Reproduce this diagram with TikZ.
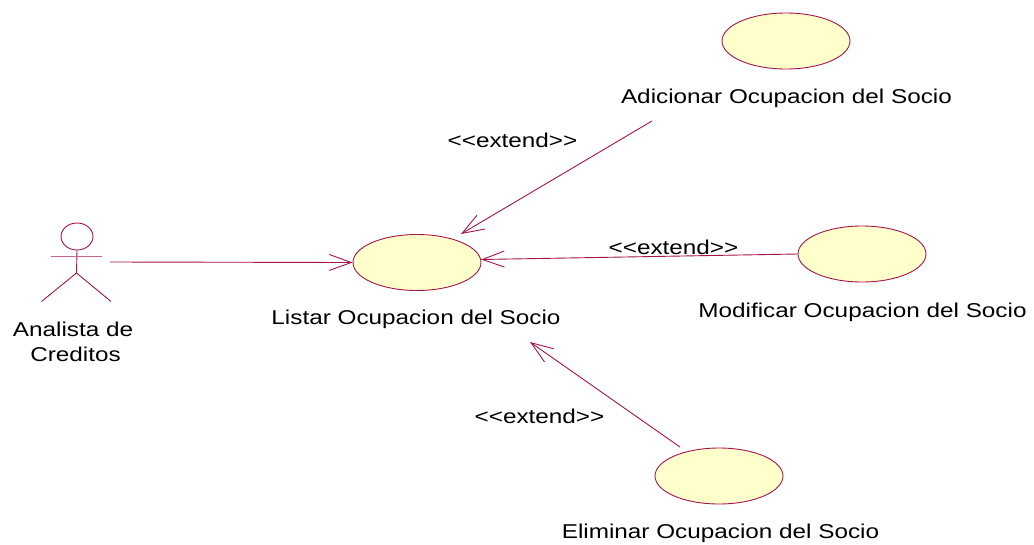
\documentclass[tikz,border=0pt]{standalone}
\usepackage{fontspec}
\setmainfont[FakeStretch=1.215]{Liberation Sans}
\usetikzlibrary{arrows.meta,shapes.geometric}
\definecolor{umlline}{RGB}{165,20,75}
\definecolor{umlfill}{RGB}{255,255,204}
\tikzset{
 x=1pt,y=-1pt,
 usecase/.style={ellipse,draw=umlline,fill=umlfill,line width=0.9pt,minimum width=128pt,minimum height=56pt,inner sep=0pt},
 lbl/.style={font=\fontsize{20}{25}\selectfont,text=black,align=center,inner sep=0pt},
 assoc/.style={draw=umlline,line width=0.9pt},
 arr/.style={assoc,-{Straight Barb[length=22pt,width=16pt,line width=0.9pt]}},
 actorline/.style={draw=umlline,line width=0.9pt}
}
\begin{document}
\begin{tikzpicture}
\useasboundingbox (0,0) rectangle (1034,544);
\fill[white] (0,0) rectangle (1034,544);
\node[usecase] (add) at (786,41) {};
\node[usecase] (lst) at (417,262.5) {};
\node[usecase] (mod) at (862,254) {};
\node[usecase] (del) at (719,476) {};
\node[lbl] (addl) at (786.5,98) {Adicionar Ocupacion del Socio};
\node[lbl] (lstl) at (416,319) {Listar Ocupacion del Socio};
\node[lbl] (modl) at (862.5,312) {Modificar Ocupacion del Socio};
\node[lbl] (dell) at (720.5,533) {Eliminar Ocupacion del Socio};
\node[lbl] (actl) at (73,342) {Analista de\\\hspace*{5pt}Creditos};
\node[lbl] (e1) at (512.5,140) {<{}<extend>{}>};
\node[lbl] (e2) at (673.5,247) {<{}<extend>{}>};
\node[lbl] (e3) at (539.5,416) {<{}<extend>{}>};
\node[ellipse,draw=umlline,line width=0.9pt,minimum width=32pt,minimum height=27pt,inner sep=0pt] (head) at (77,236.5) {};
\coordinate (hip) at (76.5,273);
\coordinate (la) at (41.5,301.5);
\coordinate (ra) at (111,301.5);
\coordinate (al) at (51,256);
\coordinate (ar) at (102,256);
\draw[actorline] (head.south) -- (hip);
\draw[actorline,draw=umlline!65] (al) -- (ar);
\draw[actorline] (hip) -- (la);
\draw[actorline] (hip) -- (ra);
\coordinate (s0) at (110,262);
\coordinate (s1) at (652,121);
\coordinate (s3) at (680,447);
\coordinate (t1) at (461,234);
\coordinate (t2) at (481,259.5);
\coordinate (t3) at (530,342);
\draw[arr] (s0) -- (lst.west);
\draw[arr] (s1) -- (t1);
\draw[arr] (mod.west) -- (t2);
\draw[arr] (s3) -- (t3);
\end{tikzpicture}
\end{document}
